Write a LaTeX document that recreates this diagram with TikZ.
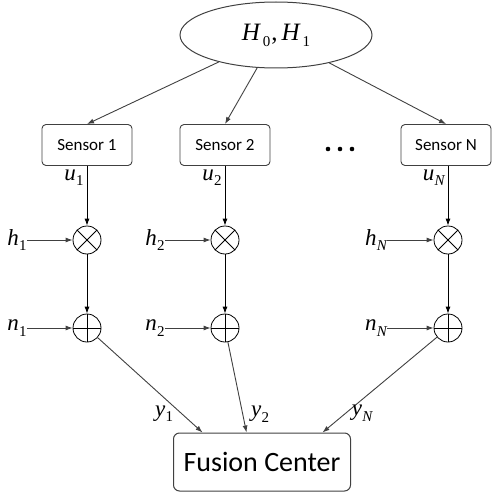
\documentclass[tikz,border=0pt]{standalone}
\usepackage{fontspec}
\setmainfont{Carlito}
\newfontfamily\tms{Liberation Serif}
\usepackage{xcolor}
\usetikzlibrary{arrows.meta,positioning,calc,shapes.geometric}

\definecolor{wiregray}{gray}{0.25}
\newcommand{\sig}[2]{{\tms\itshape #1}\kern0.3pt\raisebox{-0.5ex}{\tms\fontsize{15}{15}\selectfont #2}}

\begin{document}
\begin{tikzpicture}[x=1pt, y=-1pt,
    sensor/.style={draw=wiregray, line width=0.9pt, rounded corners=4pt, minimum width=90pt, minimum height=41pt, inner sep=0pt, font=\fontsize{17}{17}\selectfont},
    fusion/.style={draw=wiregray, line width=1pt, rounded corners=6pt, minimum width=177pt, minimum height=58pt, inner sep=0pt, font=\fontsize{28}{28}\selectfont},
    hypo/.style={draw=wiregray, line width=1pt, ellipse, minimum width=192pt, minimum height=66pt, inner sep=0pt, font=\fontsize{25}{25}\selectfont},
    mult/.style={circle, draw, thick, minimum size=28pt, inner sep=0pt,
        path picture={\draw[thick] (path picture bounding box.north west) -- (path picture bounding box.south east)
                                   (path picture bounding box.north east) -- (path picture bounding box.south west);}},
    adder/.style={circle, draw, thick, minimum size=28pt, inner sep=0pt,
        path picture={\draw[thick] (path picture bounding box.north) -- (path picture bounding box.south)
                                   (path picture bounding box.east) -- (path picture bounding box.west);}},
    lbl/.style={inner sep=0pt, text=black, font=\fontsize{23}{23}\selectfont},
    arrow/.style={-{Latex[length=7pt,width=5pt]}, thick},
    feed/.style={-{Latex[length=7pt,width=5pt]}, wiregray, line width=0.9pt}
]
    \useasboundingbox (0,0) rectangle (492,495);

    % hypothesis
    \node[hypo] (hyp) at (276,35) {{\tms\itshape H}\kern3pt\raisebox{-0.5ex}{\tms\fontsize{15}{15}\selectfont 0}\kern1pt{\tms ,}\kern4pt{\tms\itshape H}\kern3pt\raisebox{-0.5ex}{\tms\fontsize{15}{15}\selectfont 1}};

    % sensors
    \node[sensor] (s1) at (87,145) {Sensor 1};
    \node[sensor] (s2) at (225,145) {Sensor 2};
    \node[sensor] (sN) at (446,145) {Sensor N};
    \foreach \x in {328,340,352} \fill (\x,149) circle (2.3);

    % channel gains and noise
    \node[mult] (m1) at (87,240) {};
    \node[mult] (m2) at (225,240) {};
    \node[mult] (mN) at (448,240) {};
    \node[adder] (a1) at (87,328) {};
    \node[adder] (a2) at (225,328) {};
    \node[adder] (aN) at (448,328) {};

    \node[lbl] (h1) at (17,240) {\sig{h}{1}};
    \node[lbl] (h2) at (155,240) {\sig{h}{2}};
    \node[lbl] (hN) at (376,240) {\sig{h}{\itshape N}};
    \node[lbl] (n1) at (17,328) {\sig{n}{1}};
    \node[lbl] (n2) at (155,328) {\sig{n}{2}};
    \node[lbl] (nN) at (376,328) {\sig{n}{\itshape N}};

    % fusion center
    \node[fusion] (fc) at (262,462) {Fusion Center};

    \draw[feed] (hyp) -- (s1.north);
    \draw[feed] (hyp) -- (s2.north);
    \draw[feed] (hyp) -- (sN.north);

    \draw[arrow] (s1) -- node[lbl, pos=0.2, left=3pt] {\sig{u}{1}} (m1);
    \draw[arrow] (s2) -- node[lbl, pos=0.2, left=3pt] {\sig{u}{2}} (m2);
    \draw[arrow] (sN.south -| mN) -- node[lbl, pos=0.2, left=3pt] {\sig{u}{\itshape N}} (mN);
    \draw[arrow] (m1) -- (a1);
    \draw[arrow] (m2) -- (a2);
    \draw[arrow] (mN) -- (aN);

    \draw[feed] (h1) -- (m1);
    \draw[feed] (h2) -- (m2);
    \draw[feed] (hN) -- (mN);
    \draw[feed] (n1) -- (a1);
    \draw[feed] (n2) -- (a2);
    \draw[feed] (nN) -- (aN);

    \draw[feed] (a1) -- node[lbl, pos=0.8, left=8pt] {\sig{y}{1}} ([xshift=29.5pt]fc.north west);
    \draw[feed] (a2) -- node[lbl, pos=0.8, right=8pt] {\sig{y}{2}} ([xshift=73.5pt]fc.north west);
    \draw[feed] (aN) -- node[lbl, pos=0.8, right=6pt] {\sig{y}{\itshape N}} ([xshift=149.5pt]fc.north west);
\end{tikzpicture}
\end{document}
